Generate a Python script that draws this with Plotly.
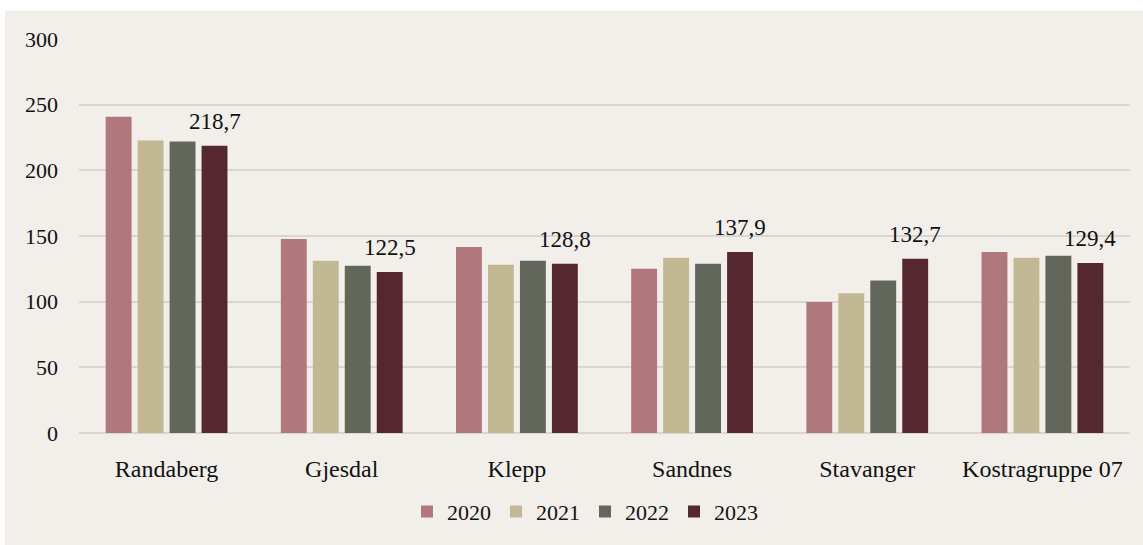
import plotly.graph_objects as go

categories = ["Randaberg", "Gjesdal", "Klepp", "Sandnes", "Stavanger", "Kostragruppe 07"]
years = ["2020", "2021", "2022", "2023"]
v2020 = [240.8, 147.7, 141.7, 125.1, 99.8, 137.9]
v2021 = [222.7, 131.2, 128.2, 133.4, 106.4, 133.4]
v2022 = [222.0, 127.4, 131.2, 128.9, 116.1, 134.9]
v2023 = [218.7, 122.5, 128.8, 137.9, 132.7, 129.4]
labels2023 = ["218,7", "122,5", "128,8", "137,9", "132,7", "129,4"]
colors = ["#b0787c", "#c3b894", "#63665b", "#55282f"]

series = [v2020, v2021, v2022, v2023]
FONT = "Liberation Serif, Times New Roman, serif"
BG = "#f2efea"

fig = go.Figure()
for name, vals, col in zip(years, series, colors):
    fig.add_trace(go.Bar(x=categories, y=vals, name=name, marker_color=col,
                         marker_line_width=0, hoverinfo="x+y"))

annotations = []
for cat, val, lab in zip(categories, v2023, labels2023):
    annotations.append(dict(x=cat, y=val, text=lab, showarrow=False,
                            xref="x", yref="y", xanchor="center", yanchor="bottom",
                            xshift=48, yshift=10,
                            font=dict(family=FONT, size=23, color="#111111")))

W, H = 1143, 545
L, R, T, B = 79, 13, 39, 106
pw, ph = W - L - R, H - T - B

fig.update_layout(
    width=W, height=H,
    margin=dict(l=L, r=R, t=T, b=B, pad=0),
    paper_bgcolor=BG,
    plot_bgcolor=BG,
    font=dict(family=FONT, size=22, color="#111111"),
    barmode="group",
    bargap=0.27,
    bargroupgap=0.19,
    annotations=annotations,
    showlegend=True,
    legend=dict(orientation="h", x=(585 - L) / pw, xanchor="center",
                y=(H - B - 519) / ph, yanchor="middle",
                font=dict(family=FONT, size=22, color="#111111"),
                bgcolor="rgba(0,0,0,0)", itemwidth=30, traceorder="normal"),
    shapes=[
        dict(type="rect", xref="paper", yref="paper", layer="above",
             x0=-(L + 10) / pw, x1=(W + 10 - L) / pw,
             y0=(H - B - 10) / ph, y1=(H - B + 20) / ph,
             fillcolor="white", line_width=0),
        dict(type="rect", xref="paper", yref="paper", layer="above",
             x0=-(L + 10) / pw, x1=(5 - L) / pw,
             y0=-(B + 20) / ph, y1=(H - B + 20) / ph,
             fillcolor="white", line_width=0),
    ],
    xaxis=dict(showgrid=False, zeroline=False, showline=False, ticks="",
               tickfont=dict(family=FONT, size=24, color="#111111"),
               ticklabelstandoff=19, fixedrange=True),
    yaxis=dict(range=[0, 300], dtick=50, showgrid=True, gridcolor="#d9d6d2",
               gridwidth=1.5, zeroline=True, zerolinecolor="#d9d6d2", zerolinewidth=1.5,
               showline=False, ticks="", ticklabelstandoff=20,
               tickfont=dict(family=FONT, size=22, color="#111111"), fixedrange=True),
)

fig.write_html("out.html", config={"displayModeBar": False},
               post_script=("document.body.style.margin='0';document.body.style.overflow='hidden';"
                            "document.body.style.background='%s';"
                            "document.documentElement.style.background='%s';") % (BG, BG))
